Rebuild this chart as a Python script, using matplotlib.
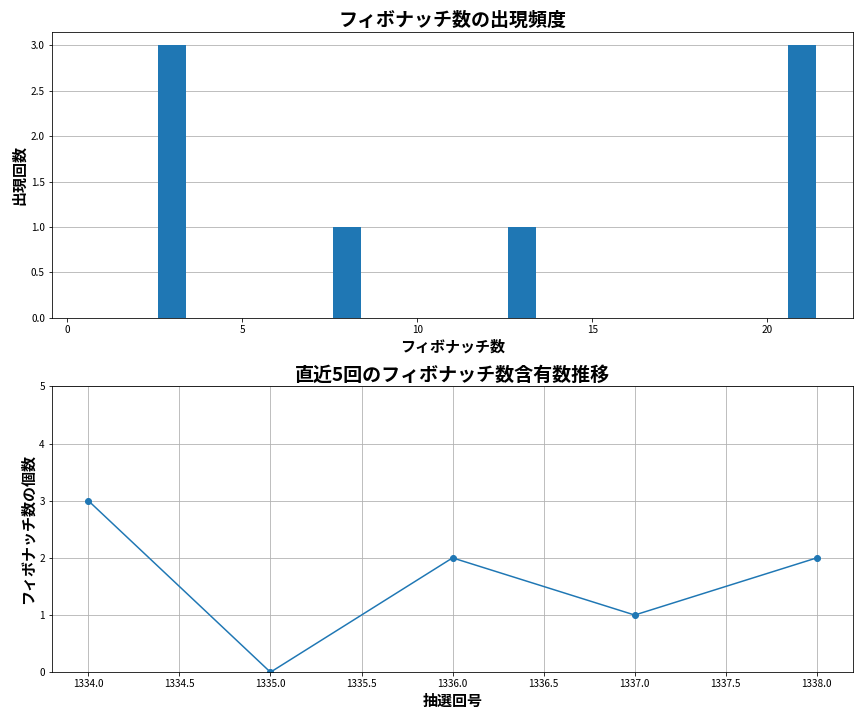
import matplotlib
matplotlib.use("Agg")
import matplotlib.pyplot as plt
plt.rcParams['font.family'] = 'Noto Sans CJK JP'

fib_numbers = [0, 1, 2, 3, 5, 8, 13, 21]
fib_counts = [0, 0, 0, 3, 0, 1, 1, 3]
draws = [1334, 1335, 1336, 1337, 1338]
fib_in_draw = [3, 0, 2, 1, 2]

fig, (ax1, ax2) = plt.subplots(2, 1, figsize=(12, 10), dpi=72)
ax1.bar(fib_numbers, fib_counts, width=0.8, color='#1f77b4')
ax1.set_xlim(-0.43, 22.45)
ax1.set_title('フィボナッチ数の出現頻度', fontsize=19, fontweight='bold')
ax1.set_xlabel('フィボナッチ数', fontsize=15, fontweight='bold')
ax1.set_ylabel('出現回数', fontsize=15, fontweight='bold')
ax1.grid(axis='y')
ax1.set_axisbelow(True)

ax2.plot(draws, fib_in_draw, marker='o', color='#1f77b4')
ax2.set_ylim(0, 5)
ax2.set_title('直近5回のフィボナッチ数含有数推移', fontsize=19, fontweight='bold')
ax2.set_xlabel('抽選回号', fontsize=15, fontweight='bold')
ax2.set_ylabel('フィボナッチ数の個数', fontsize=15, fontweight='bold')
ax2.grid(True)
fig.tight_layout()
fig.savefig('out.png')
